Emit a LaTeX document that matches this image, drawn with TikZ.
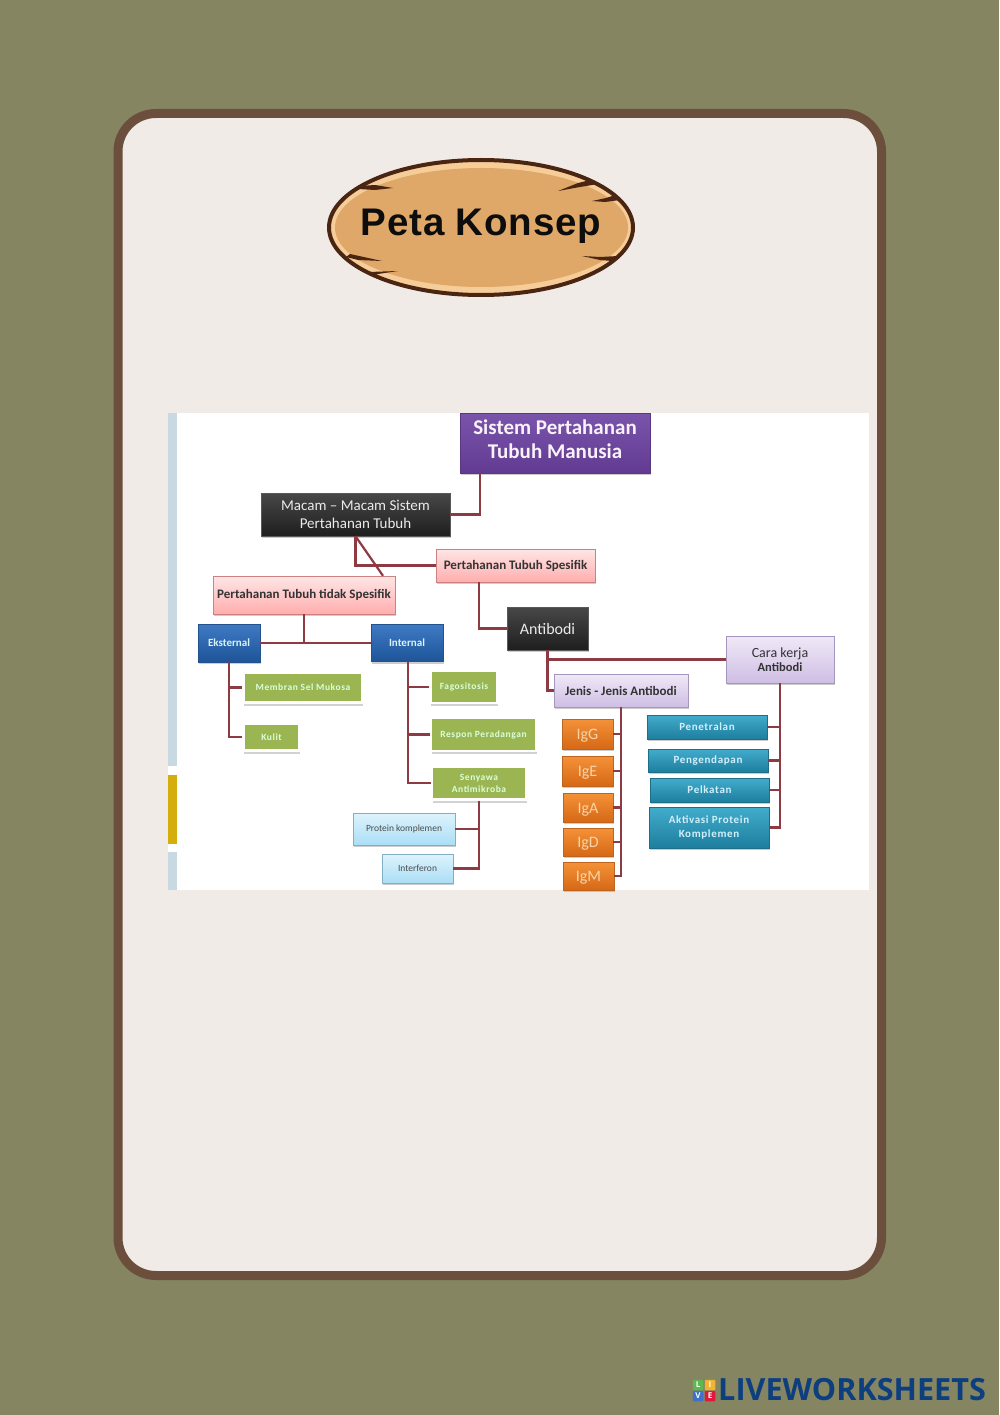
\documentclass[tikz,border=0pt]{standalone}
\usepackage{fontspec}
\usepackage{xcolor}
\usetikzlibrary{shapes.geometric, shadows}
\setmainfont{Carlito}
\newfontfamily\titlefont[LetterSpace=2]{Liberation Sans}
\newfontfamily\logofont{Open Sans}
\newfontfamily\widefont[LetterSpace=6]{Carlito}
\definecolor{pagebg}{HTML}{858562}
\definecolor{framebrown}{HTML}{6B4F3C}
\definecolor{framefill}{HTML}{F0EBE6}
\definecolor{wood}{HTML}{DFA868}
\definecolor{woodlight}{HTML}{F6CD98}
\definecolor{wooddark}{HTML}{4A2512}
\definecolor{linkred}{HTML}{8E3A42}
\definecolor{logoblue}{HTML}{0D3F7F}
\definecolor{greenfill}{HTML}{9BB553}
\definecolor{stripblue}{HTML}{C8D9E2}
\definecolor{stripyellow}{HTML}{D4AE0C}
\definecolor{headtop}{HTML}{7A54AA}
\definecolor{headbot}{HTML}{623A92}
\definecolor{headline}{HTML}{583880}
\definecolor{pinkline}{HTML}{CD8282}
\definecolor{bluetop}{HTML}{3E7AC4}
\definecolor{bluebot}{HTML}{1E5498}
\definecolor{blueline}{HTML}{24528C}
\definecolor{skytop}{HTML}{DEF3FC}
\definecolor{skybot}{HTML}{AADEF6}
\definecolor{skyline}{HTML}{82AFC3}
\definecolor{lilactop}{HTML}{F0E9F7}
\definecolor{lilacbot}{HTML}{CEBEE4}
\definecolor{lilacline}{HTML}{A596BE}
\definecolor{orangetop}{HTML}{F49238}
\definecolor{orangebot}{HTML}{D66816}
\definecolor{orangeline}{HTML}{BE641E}
\definecolor{orangetext}{HTML}{F8D4AA}
\definecolor{tealtop}{HTML}{42ACCC}
\definecolor{tealbot}{HTML}{1E7E9E}
\definecolor{tealline}{HTML}{1E6E88}
\definecolor{tilegreen}{HTML}{5CB850}
\definecolor{tileyellow}{HTML}{F0B432}
\definecolor{tileblue}{HTML}{3C73C8}
\definecolor{tilered}{HTML}{E0183C}
\tikzset{
    shaded box/.style={inner sep=0pt, align=center, drop shadow={shadow xshift=.8pt, shadow yshift=-2pt, opacity=.4}},
    headbox/.style={shaded box, top color=headtop, bottom color=headbot, draw=headline, text=white!95!violet},
    blackbox/.style={shaded box, top color=black!72, bottom color=black!88, draw=black!65, text=white!92!black},
    pinkbox/.style={shaded box, top color=red!10, bottom color=red!32, draw=pinkline, text=black!80, font=\fontsize{13}{15}\selectfont\bfseries},
    bluebox/.style={shaded box, top color=bluetop, bottom color=bluebot, draw=blueline, text=white!85!cyan, font=\fontsize{11}{13}\selectfont\bfseries},
    greenbox/.style={inner sep=0pt, align=center, fill=greenfill, draw=white, line width=2.5pt, text=white!85!green, font=\widefont\fontsize{9.5}{12}\selectfont\bfseries, drop shadow={shadow xshift=.8pt, shadow yshift=-3.2pt, opacity=.35}},
    skybox/.style={shaded box, top color=skytop, bottom color=skybot, draw=skyline, text=black!70, font=\fontsize{9.5}{11}\selectfont},
    lilacbox/.style={shaded box, top color=lilactop, bottom color=lilacbot, draw=lilacline, text=black!80},
    orangebox/.style={shaded box, top color=orangetop, bottom color=orangebot, draw=orangeline, text=orangetext, text height=11pt, text depth=0pt, font=\fontsize{16}{18}\selectfont},
    tealbox/.style={shaded box, top color=tealtop, bottom color=tealbot, draw=tealline, text=white!82!cyan, font=\widefont\fontsize{11}{14}\selectfont\bfseries},
    link/.style={draw=linkred, line width=2.2pt},
    crack/.style={fill=wooddark, draw=none},
    logotile/.style={minimum size=10.5pt, inner sep=0pt, rounded corners=1pt, text=white, font=\logofont\fontsize{8}{8}\selectfont\bfseries},
}
\begin{document}
\begin{tikzpicture}[x=1pt, y=-1pt]
        \useasboundingbox (0,0) rectangle (999,1415);
        \fill[pagebg] (0,0) rectangle (999,1415);
        \draw[framebrown, fill=framefill, line width=9pt, rounded corners=38pt] (118,113.5) rectangle (881.5,1275.5);

        % wooden sign
        \node[ellipse, draw=wooddark, line width=4pt, fill=woodlight, minimum width=304, minimum height=135, inner sep=0pt] (sign) at (481,227.5) {};
        \node[ellipse, fill=wood, minimum width=293, minimum height=119, inner sep=0pt] (signinner) at (481.5,227.5) {};
        \fill[crack] (360,186) -- (375,185) -- (393,188) -- (375,190) -- (358,189) -- cycle;
        \fill[crack] (558,191) -- (578,183) -- (590,180) -- (598,184) -- (580,187) -- cycle;
        \fill[crack] (592,201) -- (606,198) -- (615,195) -- (620,200) -- (605,202) -- cycle;
        \fill[crack] (346,257) -- (350,254) -- (382,261) -- (358,260) -- cycle;
        \fill[crack] (368,272) -- (398,271) -- (378,274) -- (373,276) -- cycle;
        \fill[crack] (582,256) -- (600,257) -- (618,256) -- (612,261) -- (600,260) -- cycle;
        \node[font=\titlefont\fontsize{38.5}{40}\selectfont\bfseries, text=black!95, inner sep=0pt] (signtext) at (481,226) {Peta Konsep};

        % picture area
        \fill[white] (168,413) rectangle (869,890);
        \fill[stripblue] (168,413) rectangle (177,766);
        \fill[stripyellow] (168,775) rectangle (177,844);
        \fill[stripblue] (168,852) rectangle (177,890);

        \node[headbox, minimum width=190, minimum height=60, font=\fontsize{21}{24}\selectfont\bfseries] (sistem) at (555,443) {Sistem Pertahanan\\Tubuh Manusia\\[-16pt]\mbox{}};
        \node[blackbox, minimum width=189, minimum height=43, font=\fontsize{15}{18}\selectfont] (macam) at (355.5,514.5) {Macam -- Macam Sistem\\Pertahanan Tubuh};
        \node[pinkbox, minimum width=159, minimum height=33] (spesifik) at (515.5,565.5) {Pertahanan Tubuh Spesifik};
        \node[pinkbox, minimum width=182, minimum height=38] (tidak) at (304,595) {Pertahanan Tubuh tidak Spesifik};
        \node[bluebox, minimum width=62, minimum height=38] (eksternal) at (229,643) {Eksternal};
        \node[bluebox, minimum width=72, minimum height=37] (internal) at (407,643) {Internal};
        \node[blackbox, minimum width=81, minimum height=43, font=\fontsize{16}{18}\selectfont] (antibodi) at (547.5,628.5) {Antibodi};
        \node[lilacbox, minimum width=108, minimum height=47, font=\fontsize{14}{15}\selectfont] (cara) at (780,659.5) {Cara kerja\\[-1pt]{\fontsize{12.5}{14}\selectfont\bfseries Antibodi}};
        \node[lilacbox, minimum width=134, minimum height=33, font=\fontsize{13}{15}\selectfont\bfseries] (jenis) at (621,690.5) {Jenis - Jenis Antibodi};

        \node[greenbox, minimum width=119, minimum height=30] (membran) at (303,687.5) {Membran Sel Mukosa};
        \node[greenbox, minimum width=56, minimum height=27] (kulit) at (271.5,737) {Kulit};
        \node[greenbox, minimum width=67, minimum height=32] (fagositosis) at (464,687) {Fagositosis};
        \node[greenbox, minimum width=105, minimum height=33] (respon) at (483.5,734.5) {Respon Peradangan};
        \node[greenbox, minimum width=94, minimum height=33] (senyawa) at (479,783) {Senyawa\\Antimikroba};
        \node[skybox, minimum width=102, minimum height=32] (protein) at (404,829) {Protein komplemen};
        \node[skybox, minimum width=71, minimum height=29] (interferon) at (417.5,868.5) {Interferon};

        \node[orangebox, minimum width=51, minimum height=30] (igg) at (587.5,734) {IgG};
        \node[orangebox, minimum width=51, minimum height=30] (ige) at (587.5,771) {IgE};
        \node[orangebox, minimum width=50, minimum height=29] (iga) at (588,807.5) {IgA};
        \node[orangebox, minimum width=50, minimum height=28] (igd) at (588,842) {IgD};
        \node[orangebox, minimum width=51, minimum height=28] (igm) at (588.5,876) {IgM};

        \node[tealbox, minimum width=120, minimum height=24] (penetralan) at (707,727) {Penetralan};
        \node[tealbox, minimum width=120, minimum height=23] (pengendapan) at (708,760.5) {Pengendapan};
        \node[tealbox, minimum width=119, minimum height=24] (pelkatan) at (709.5,790) {Pelkatan};
        \node[tealbox, minimum width=120, minimum height=41] (aktivasi) at (709,827.5) {Aktivasi Protein\\Komplemen};

        \draw[link] ([xshift=-75pt]sistem.south) |- (macam.east);
        \draw[link] (macam.south) |- (spesifik.west);
        \draw[link] (macam.south) to ([xshift=79pt]tidak.north);
        \draw[link] (eksternal.east) to (internal.west);
        \draw[link] (tidak.south) to (tidak.south |- eksternal.east);
        \draw[link] ([xshift=-36.5pt]spesifik.south) |- (antibodi.west);
        \draw[link] (antibodi.south) |- (cara.west);
        \draw[link] (antibodi.south) |- (jenis.west);
        \draw[link] (eksternal.south) |- (membran.west);
        \draw[link] (eksternal.south) |- (kulit.west);
        \draw[link] ([xshift=1pt]internal.south) |- (fagositosis.west);
        \draw[link] ([xshift=1pt]internal.south) |- (respon.west);
        \draw[link] ([xshift=1pt]internal.south) |- (senyawa.west);
        \draw[link] (senyawa.south) |- (protein.east);
        \draw[link] (senyawa.south) |- (interferon.east);
        \draw[link] (jenis.south) |- (igg.east);
        \draw[link] (jenis.south) |- (ige.east);
        \draw[link] (jenis.south) |- (iga.east);
        \draw[link] (jenis.south) |- (igd.east);
        \draw[link] (jenis.south) |- (igm.east);
        \draw[link] (cara.south) |- (penetralan.east);
        \draw[link] (cara.south) |- (pengendapan.east);
        \draw[link] (cara.south) |- (pelkatan.east);
        \draw[link] (cara.south) |- (aktivasi.east);

        % logo
        \node[logotile, fill=tilegreen] (tilel) at (698,1385) {L};
        \node[logotile, fill=tileyellow] (tilei) at (710,1385) {I};
        \node[logotile, fill=tileblue] (tilev) at (698,1396) {V};
        \node[logotile, fill=tilered] (tilee) at (710,1396) {E};
        \node[font=\logofont\fontsize{30.6}{32}\selectfont\bfseries, text=logoblue, inner sep=0pt, anchor=west] (logotext) at (718,1390) {LIVEWORKSHEETS};
    \end{tikzpicture}
\end{document}
